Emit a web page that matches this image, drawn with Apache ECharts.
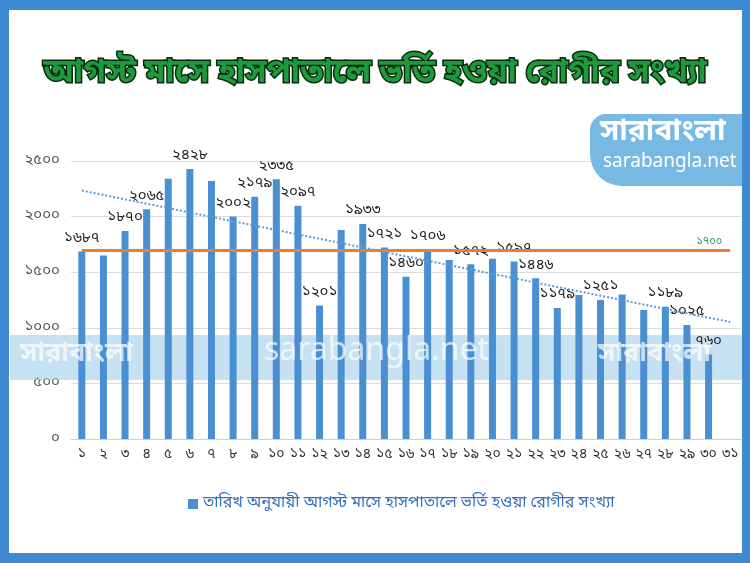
<!DOCTYPE html>
<html>
<head>
<meta charset="utf-8">
<script src="https://cdn.jsdelivr.net/npm/echarts@6/dist/echarts.min.js"></script>
<style>
html,body{margin:0;padding:0;background:#fff;}
#c{width:750px;height:563px;}
</style>
</head>
<body>
<div id="c"></div>
<script>
const titleText = 'আগস্ট মাসে হাসপাতালে ভর্তি হওয়া রোগীর সংখ্যা';
const seriesName = 'তারিখ অনুযায়ী আগস্ট মাসে হাসপাতালে ভর্তি হওয়া রোগীর সংখ্যা';
const days = ['১','২','৩','৪','৫','৬','৭','৮','৯','১০','১১','১২','১৩','১৪','১৫','১৬','১৭','১৮','১৯','২০','২১','২২','২৩','২৪','২৫','২৬','২৭','২৮','২৯','৩০','৩১'];
const patients = [1687,1650,1870,2065,2340,2428,2320,2002,2179,2335,2097,1201,1880,1933,1721,1460,1706,1610,1572,1620,1597,1446,1179,1295,1251,1300,1160,1189,1025,760,null];
const labeledDays = [1,3,4,6,8,9,10,11,12,14,15,16,17,19,21,22,23,25,28,29,30];
const threshold = 1700;
const yTicks = [0,500,1000,1500,2000,2500];

const bnDigits = '০১২৩৪৫৬৭৮৯';
const toBn = n => String(n).replace(/[0-9]/g, d => bnDigits[+d]);

// Linear trendline (least squares over available points), as in the spreadsheet
const pts = patients.map((v,i)=>[i+1,v]).filter(p=>p[1]!=null);
const n = pts.length;
const mx = pts.reduce((s,p)=>s+p[0],0)/n, my = pts.reduce((s,p)=>s+p[1],0)/n;
const slope = pts.reduce((s,p)=>s+(p[0]-mx)*(p[1]-my),0)/pts.reduce((s,p)=>s+(p[0]-mx)*(p[0]-mx),0);
const trend = days.map((d,i)=>Math.round(my + slope*(i+1-mx)));

const FONT = "'Noto Sans Bengali','Noto Sans','DejaVu Sans',sans-serif";
const barData = patients.map((v,i)=>{
  const item = {value:v};
  if (labeledDays.includes(i+1)) item.label = {show:true};
  return item;
});

const blue = '#3f8ad0';
const chart = echarts.init(document.getElementById('c'), null, {renderer:'canvas'});
chart.setOption({
  backgroundColor:'#ffffff',
  textStyle:{fontFamily:FONT},
  title:{
    text:titleText, left:'center', top:54,
    textStyle:{fontFamily:FONT, fontSize:33, fontWeight:'bold', color:'#1d9a3b',
      textBorderColor:'#0a2a0e', textBorderWidth:3}
  },
  legend:{
    data:[seriesName], bottom:46, left:183,
    icon:'rect', itemWidth:10, itemHeight:10, itemGap:7,
    textStyle:{fontFamily:FONT, fontSize:16, color:'#3a70b8'}
  },
  grid:{left:71, right:9, top:161, bottom:124, containLabel:false},
  xAxis:{
    type:'category', data:days,
    axisTick:{show:false},
    axisLine:{lineStyle:{color:'#d0d0d0'}},
    axisLabel:{interval:0, color:'#333', fontSize:14, margin:9, fontFamily:FONT}
  },
  yAxis:{
    type:'value', min:0, max:2500, interval:500,
    axisLine:{show:false}, axisTick:{show:false},
    splitLine:{lineStyle:{color:'#dcdcdc'}},
    axisLabel:{color:'#555', fontSize:15, margin:11, fontFamily:FONT, formatter:v=>toBn(v)}
  },
  series:[
    {
      name:seriesName, type:'bar', data:barData, barWidth:7, z:3,
      itemStyle:{color:'#4a8fd2'},
      label:{show:false, position:'top', distance:5, color:'#222', fontSize:15, fontFamily:FONT,
        formatter:p=>toBn(p.value)},
      markLine:{
        silent:true, symbol:'none',
        lineStyle:{color:'#ed7d31', width:3, type:'solid'},
        label:{show:true, position:'insideEndTop', formatter:()=>toBn(threshold), color:'#2a9d55', fontSize:11, distance:[8,3]},
        data:[[{coord:[days[0], threshold]},{coord:[days[days.length-1], threshold]}]]
      }
    },
    {
      name:'trend', type:'line', data:trend, symbol:'none', z:4, silent:true,
      lineStyle:{color:'#5a9bd5', width:2, type:'dotted'}
    }
  ],
  graphic:[
    {type:'rect', z:1, shape:{x:10,y:335,width:732,height:45}, style:{fill:'rgba(160,205,234,0.6)'}},
    {type:'text', z:10, left:20, top:342, style:{text:'সারাবাংলা', fill:'rgba(255,255,255,0.7)', font:'bold 27px '+FONT}},
    {type:'text', z:10, left:264, top:338, style:{text:'sarabangla.net', fill:'rgba(255,255,255,0.7)', font:'32px '+FONT}},
    {type:'text', z:10, left:598, top:342, style:{text:'সারাবাংলা', fill:'rgba(255,255,255,0.7)', font:'bold 27px '+FONT}},
    {type:'rect', z:10, shape:{x:590,y:114,width:152,height:72,r:[16,0,0,32]}, style:{fill:'#78b9e4'}},
    {type:'text', z:11, left:600, top:119, style:{text:'সারাবাংলা', fill:'#ffffff', font:'bold 30px '+FONT}},
    {type:'text', z:11, left:603, top:154, style:{text:'sarabangla.net', fill:'#ffffff', font:'19px '+FONT}},
    {type:'rect', z:20, shape:{x:0,y:0,width:750,height:10}, style:{fill:blue}},
    {type:'rect', z:20, shape:{x:0,y:553,width:750,height:10}, style:{fill:blue}},
    {type:'rect', z:20, shape:{x:0,y:0,width:9,height:563}, style:{fill:blue}},
    {type:'rect', z:20, shape:{x:742,y:0,width:8,height:563}, style:{fill:blue}}
  ]
});
</script>
</body>
</html>
